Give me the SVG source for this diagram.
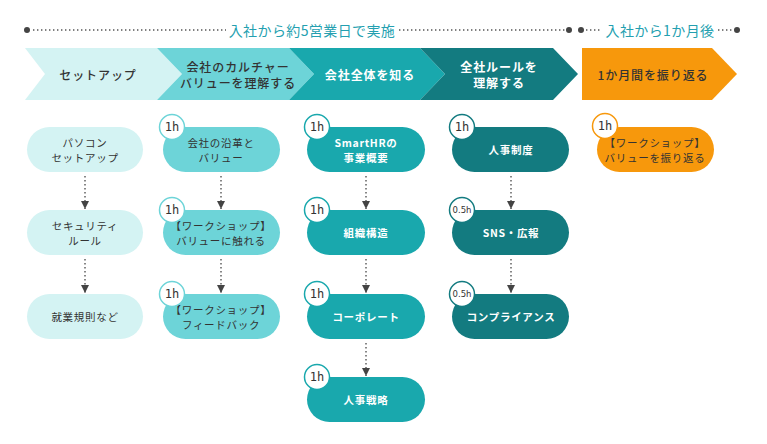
<svg xmlns="http://www.w3.org/2000/svg" width="767" height="444" viewBox="0 0 767 444">
<defs>
<style>
text{font-family:"Noto Sans CJK JP","Noto Sans",sans-serif;text-anchor:middle;dominant-baseline:central}
.tl{font-size:14px;fill:#249fb0;letter-spacing:0.4px}
.ch{font-size:12px;letter-spacing:0.9px;font-weight:500}
.pt{font-size:10.5px;letter-spacing:0.7px}
.dk{fill:#333}
.wh{fill:#fff;font-weight:700}
.dot{stroke:#555;stroke-width:1.4;stroke-dasharray:1.4 2.6;fill:none}
.bd{fill:#fff;stroke-width:1.5}
.bt{font-family:"DejaVu Sans Mono","Liberation Mono",monospace;font-size:12px;fill:#333}
.bs{font-family:"DejaVu Sans",sans-serif;font-size:8.5px;fill:#333}
.c1{fill:#d4f3f3}.c2{fill:#6dd4d8}.c3{fill:#19a8ad}.c4{fill:#137b80}.c5{fill:#f7980c}
</style>
<marker id="ah" viewBox="0 0 10 10" refX="10" refY="5" markerWidth="8" markerHeight="8" markerUnits="userSpaceOnUse" orient="auto"><path d="M0,0 L10,5 L0,10 Z" fill="#444"/></marker>
</defs>
<rect width="767" height="444" fill="#fff"/>

<g id="timeline">
<circle cx="27" cy="30" r="3" fill="#444"/>
<line class="dot" x1="33" y1="30" x2="226" y2="30"/>
<text class="tl" x="312" y="30">入社から約5営業日で実施</text>
<line class="dot" x1="399" y1="30" x2="565" y2="30"/>
<circle cx="569" cy="30" r="3" fill="#444"/>
<circle cx="581" cy="30" r="3" fill="#444"/>
<line class="dot" x1="586" y1="30" x2="600" y2="30"/>
<text class="tl" x="660" y="30">入社から1か月後</text>
<line class="dot" x1="718" y1="30" x2="733" y2="30"/>
<circle cx="737" cy="30" r="3" fill="#444"/>
</g>

<g id="phase1"><polygon class="c1" points="25,48 157,48 182,74 157,100 25,100 45,74"/><text class="ch dk" x="98" y="74">セットアップ</text></g>
<g id="phase2"><polygon class="c2" points="157,48 289,48 314,74 289,100 157,100 182,74"/><text class="ch dk" x="238" y="66.5">会社のカルチャー</text><text class="ch dk" x="238" y="82">バリューを理解する</text></g>
<g id="phase3"><polygon class="c3" points="289,48 420,48 445,74 420,100 289,100 314,74"/><text class="ch wh" x="370" y="74">会社全体を知る</text></g>
<g id="phase4"><polygon class="c4" points="420,48 553,48 578,74 553,100 420,100 445,74"/><text class="ch wh" x="499" y="66.5">全社ルールを</text><text class="ch wh" x="499" y="82">理解する</text></g>
<g id="phase5"><polygon class="c5" points="582,48 712,48 737,74 712,100 582,100"/><text class="ch dk" x="653" y="74">1か月間を振り返る</text></g>

<g id="connectors">
<line class="dot" x1="85" y1="176" x2="85" y2="209" marker-end="url(#ah)"/>
<line class="dot" x1="85" y1="259" x2="85" y2="293" marker-end="url(#ah)"/>
<line class="dot" x1="221" y1="176" x2="221" y2="209" marker-end="url(#ah)"/>
<line class="dot" x1="221" y1="259" x2="221" y2="293" marker-end="url(#ah)"/>
<line class="dot" x1="366" y1="176" x2="366" y2="209" marker-end="url(#ah)"/>
<line class="dot" x1="366" y1="259" x2="366" y2="293" marker-end="url(#ah)"/>
<line class="dot" x1="366" y1="343" x2="366" y2="376" marker-end="url(#ah)"/>
<line class="dot" x1="511" y1="176" x2="511" y2="209" marker-end="url(#ah)"/>
<line class="dot" x1="511" y1="259" x2="511" y2="293" marker-end="url(#ah)"/>
</g>

<g id="n-pc"><rect class="c1" x="27" y="127" width="116" height="45" rx="22.5"/><text class="pt dk" x="85" y="142.5">パソコン</text><text class="pt dk" x="85" y="157">セットアップ</text></g>
<g id="n-security"><rect class="c1" x="27" y="210" width="116" height="45" rx="22.5"/><text class="pt dk" x="85" y="225.5">セキュリティ</text><text class="pt dk" x="85" y="240">ルール</text></g>
<g id="n-rules"><rect class="c1" x="27" y="294" width="116" height="45" rx="22.5"/><text class="pt dk" x="85" y="316.5">就業規則など</text></g>

<g id="n-history"><rect class="c2" x="163" y="127" width="117" height="45" rx="22.5"/><text class="pt dk" x="221" y="142.5">会社の沿革と</text><text class="pt dk" x="221" y="157">バリュー</text><circle class="bd" cx="172" cy="127" r="12.5" stroke="#6dd4d8"/><text class="bt" x="172" y="127">1h</text></g>
<g id="n-ws1"><rect class="c2" x="163" y="210" width="117" height="45" rx="22.5"/><text class="pt dk" x="221" y="225.5">【ワークショップ】</text><text class="pt dk" x="221" y="240">バリューに触れる</text><circle class="bd" cx="172" cy="210" r="12.5" stroke="#6dd4d8"/><text class="bt" x="172" y="210">1h</text></g>
<g id="n-ws2"><rect class="c2" x="163" y="294" width="117" height="45" rx="22.5"/><text class="pt dk" x="221" y="309.5">【ワークショップ】</text><text class="pt dk" x="221" y="324">フィードバック</text><circle class="bd" cx="172" cy="294" r="12.5" stroke="#6dd4d8"/><text class="bt" x="172" y="294">1h</text></g>

<g id="n-business"><rect class="c3" x="307" y="127" width="118" height="45" rx="22.5"/><text class="pt wh" x="366" y="142.5">SmartHRの</text><text class="pt wh" x="366" y="157">事業概要</text><circle class="bd" cx="317" cy="127" r="12.5" stroke="#19a8ad"/><text class="bt" x="317" y="127">1h</text></g>
<g id="n-org"><rect class="c3" x="307" y="210" width="118" height="45" rx="22.5"/><text class="pt wh" x="366" y="232.5">組織構造</text><circle class="bd" cx="317" cy="210" r="12.5" stroke="#19a8ad"/><text class="bt" x="317" y="210">1h</text></g>
<g id="n-corp"><rect class="c3" x="307" y="294" width="118" height="45" rx="22.5"/><text class="pt wh" x="366" y="316.5">コーポレート</text><circle class="bd" cx="317" cy="294" r="12.5" stroke="#19a8ad"/><text class="bt" x="317" y="294">1h</text></g>
<g id="n-hrstrategy"><rect class="c3" x="307" y="377" width="118" height="45" rx="22.5"/><text class="pt wh" x="366" y="399.5">人事戦略</text><circle class="bd" cx="317" cy="377" r="12.5" stroke="#19a8ad"/><text class="bt" x="317" y="377">1h</text></g>

<g id="n-hrsystem"><rect class="c4" x="452" y="127" width="117" height="45" rx="22.5"/><text class="pt wh" x="511" y="149.5">人事制度</text><circle class="bd" cx="462" cy="127" r="12.5" stroke="#137b80"/><text class="bt" x="462" y="127">1h</text></g>
<g id="n-sns"><rect class="c4" x="452" y="210" width="117" height="45" rx="22.5"/><text class="pt wh" x="511" y="232.5">SNS・広報</text><circle class="bd" cx="462" cy="210" r="12.5" stroke="#137b80"/><text class="bs" x="462" y="210">0.5h</text></g>
<g id="n-compliance"><rect class="c4" x="452" y="294" width="117" height="45" rx="22.5"/><text class="pt wh" x="511" y="316.5">コンプライアンス</text><circle class="bd" cx="462" cy="294" r="12.5" stroke="#137b80"/><text class="bs" x="462" y="294">0.5h</text></g>

<g id="n-review"><rect class="c5" x="597" y="127" width="117" height="45" rx="22.5"/><text class="pt dk" x="655" y="142.5">【ワークショップ】</text><text class="pt dk" x="655" y="157">バリューを振り返る</text><circle class="bd" cx="605" cy="126" r="12.5" stroke="#f7980c"/><text class="bt" x="605" y="126">1h</text></g>
</svg>
